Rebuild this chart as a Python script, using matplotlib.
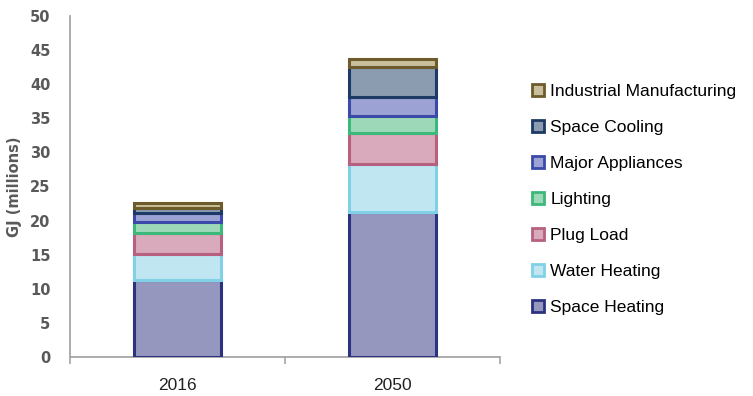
import matplotlib
matplotlib.use("Agg")
import matplotlib.pyplot as plt
from matplotlib.patches import Patch
import numpy as np

years = ["2016", "2050"]
categories = ["Space Heating", "Water Heating", "Plug Load", "Lighting",
              "Major Appliances", "Space Cooling", "Industrial Manufacturing"]
space_heating = [11.3, 21.3]
water_heating = [3.8, 7.0]
plug_load = [3.1, 4.5]
lighting = [1.6, 2.5]
major_appliances = [1.3, 2.8]
space_cooling = [0.7, 4.4]
industrial = [0.8, 1.2]
series = [space_heating, water_heating, plug_load, lighting,
          major_appliances, space_cooling, industrial]

fills = ["#9597bf", "#c0e6f1", "#d8aabb", "#9dd9b9", "#9ca3d4", "#8b9bb0", "#c9bf9c"]
edges = ["#2b3381", "#80d0e6", "#b8607f", "#3cb878", "#3b4aa8", "#1d3a66", "#6e5b2b"]

fig = plt.figure(figsize=(7.53, 3.96), dpi=100)
ax = fig.add_axes([70 / 753, 1 - 357 / 396, 430 / 753, 341 / 396])

x = np.arange(len(years)) + 0.5
bottom = np.zeros(len(years))
for vals, fc, ec in zip(series, fills, edges):
    ax.bar(x, vals, width=0.405, bottom=bottom, facecolor=fc, edgecolor=ec,
           linewidth=2.2, zorder=3)
    bottom += np.array(vals)

ax.set_xlim(0, 2)
ax.set_ylim(0, 50)
ax.set_yticks(np.arange(0, 51, 5))
ax.set_xticks([0, 1, 2], minor=False)
ax.set_xticklabels(["", "", ""])
ax.set_xticks(x, minor=True)
ax.set_xticklabels(years, minor=True, fontsize=12.5, family="Liberation Sans", color="#222222")
ax.tick_params(axis="x", which="major", length=5, width=1.2, color="#a6a6a6", direction="out")
ax.tick_params(axis="x", which="minor", length=0, pad=15)
ax.tick_params(axis="y", length=0, pad=14, labelsize=10.5, labelcolor="#595959")
for lbl in ax.get_yticklabels():
    lbl.set_fontweight("bold")
    lbl.set_family("DejaVu Sans")

for side in ["top", "right"]:
    ax.spines[side].set_visible(False)
for side in ["left", "bottom"]:
    ax.spines[side].set_color("#a6a6a6")
    ax.spines[side].set_linewidth(1.3)

ax.set_ylabel("GJ (millions)", fontsize=10.5, fontweight="bold", color="#595959", labelpad=6)

handles = [Patch(facecolor=fc, edgecolor=ec, linewidth=2, label=c)
           for c, fc, ec in zip(categories, fills, edges)][::-1]
fig.legend(handles=handles, loc="upper left", bbox_to_anchor=(532 / 753, 1 - 84 / 396),
           frameon=False, prop={"family": "Liberation Sans", "size": 12.5},
           handlelength=0.7, handleheight=0.7, handletextpad=0.35, labelspacing=1.2,
           borderaxespad=0, borderpad=0)

fig.savefig("out.png", dpi=100)
